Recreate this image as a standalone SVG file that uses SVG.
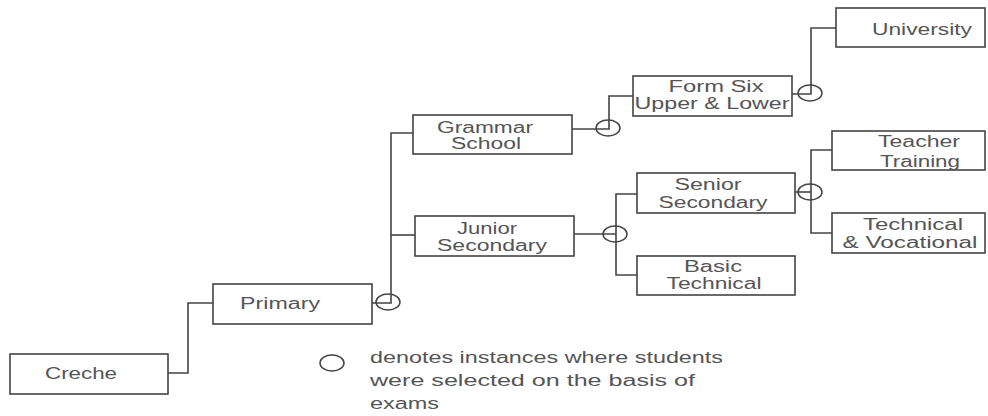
<svg xmlns="http://www.w3.org/2000/svg" width="988" height="416" viewBox="0 0 988 416">
<style>
.box{fill:#fff;stroke:#444;stroke-width:1.6}
.t{font-family:"Liberation Sans",Arial,sans-serif;font-size:16px;fill:#555;text-anchor:middle;dominant-baseline:central}
.lt{font-family:"Liberation Sans",Arial,sans-serif;font-size:16px;fill:#555;dominant-baseline:central}
.c{fill:none;stroke:#444;stroke-width:1.6}
.ex{fill:none;stroke:#444;stroke-width:1.5}
</style>
<rect width="988" height="416" fill="#fff"/>
<g id="connectors">
<polyline class="c" points="168,373 188,373 188,303 213,303"/>
<polyline class="c" points="372,303 391,303 391,133 413,133"/>
<line class="c" x1="391" y1="235" x2="415" y2="235"/>
<polyline class="c" points="572,129 609,129 609,96 633,96"/>
<polyline class="c" points="792,94 811,94 811,28 836,28"/>
<polyline class="c" points="574,234 616,234"/>
<polyline class="c" points="637,194 616,194 616,275 637,275"/>
<polyline class="c" points="795,192 811,192"/>
<polyline class="c" points="832,150 811,150 811,233 832,233"/>
<ellipse class="ex" cx="388" cy="302" rx="12" ry="8"/>
<ellipse class="ex" cx="608" cy="128" rx="12" ry="8"/>
<ellipse class="ex" cx="810" cy="93" rx="12" ry="8"/>
<ellipse class="ex" cx="615" cy="234" rx="12" ry="8"/>
<ellipse class="ex" cx="810" cy="192" rx="12" ry="8"/>
</g>
<g id="creche">
<rect class="box" x="10" y="354" width="158" height="40"/>
<text class="t" x="81" y="373" textLength="72" lengthAdjust="spacingAndGlyphs">Creche</text>
</g>
<g id="primary">
<rect class="box" x="213" y="284" width="159" height="40"/>
<text class="t" x="280" y="303" textLength="80" lengthAdjust="spacingAndGlyphs">Primary</text>
</g>
<g id="grammar">
<rect class="box" x="413" y="115" width="159" height="39"/>
<text class="t" x="485" y="127" textLength="96" lengthAdjust="spacingAndGlyphs">Grammar</text>
<text class="t" x="486" y="143" textLength="70" lengthAdjust="spacingAndGlyphs">School</text>
</g>
<g id="junior">
<rect class="box" x="415" y="216" width="159" height="40"/>
<text class="t" x="487" y="228" textLength="60" lengthAdjust="spacingAndGlyphs">Junior</text>
<text class="t" x="492" y="245" textLength="110" lengthAdjust="spacingAndGlyphs">Secondary</text>
</g>
<g id="formsix">
<rect class="box" x="633" y="76" width="159" height="40"/>
<text class="t" x="716" y="86" textLength="95" lengthAdjust="spacingAndGlyphs">Form Six</text>
<text class="t" x="712" y="103" textLength="155" lengthAdjust="spacingAndGlyphs">Upper &amp; Lower</text>
</g>
<g id="university">
<rect class="box" x="836" y="8" width="149" height="39"/>
<text class="t" x="922" y="29" textLength="100" lengthAdjust="spacingAndGlyphs">University</text>
</g>
<g id="senior">
<rect class="box" x="637" y="173" width="158" height="40"/>
<text class="t" x="708" y="184" textLength="67" lengthAdjust="spacingAndGlyphs">Senior</text>
<text class="t" x="713" y="202" textLength="109" lengthAdjust="spacingAndGlyphs">Secondary</text>
</g>
<g id="basic">
<rect class="box" x="637" y="256" width="158" height="39"/>
<text class="t" x="713" y="266" textLength="58" lengthAdjust="spacingAndGlyphs">Basic</text>
<text class="t" x="714" y="283" textLength="95" lengthAdjust="spacingAndGlyphs">Technical</text>
</g>
<g id="teacher">
<rect class="box" x="832" y="131" width="153" height="39"/>
<text class="t" x="919" y="141" textLength="82" lengthAdjust="spacingAndGlyphs">Teacher</text>
<text class="t" x="920" y="161" textLength="80" lengthAdjust="spacingAndGlyphs">Training</text>
</g>
<g id="technical">
<rect class="box" x="832" y="213" width="153" height="40"/>
<text class="t" x="913" y="224" textLength="100" lengthAdjust="spacingAndGlyphs">Technical</text>
<text class="t" x="910" y="242" textLength="135" lengthAdjust="spacingAndGlyphs">&amp; Vocational</text>
</g>
<g id="legend">
<ellipse class="ex" cx="332" cy="363" rx="12" ry="8"/>
<text class="lt" x="370" y="357" textLength="353" lengthAdjust="spacingAndGlyphs">denotes instances where students</text>
<text class="lt" x="370" y="380" textLength="325" lengthAdjust="spacingAndGlyphs">were selected on the basis of</text>
<text class="lt" x="370" y="403" textLength="69" lengthAdjust="spacingAndGlyphs">exams</text>
</g>
</svg>
